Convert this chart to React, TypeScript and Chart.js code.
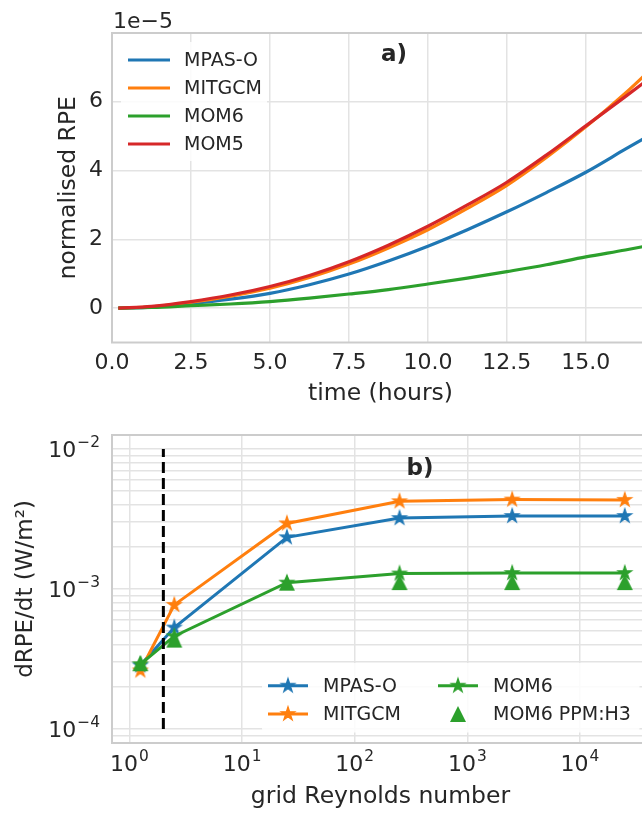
import React, { useEffect, useRef } from 'react';
import { Chart, registerables } from 'chart.js';

Chart.register(...registerables);

const FONT = "'DejaVu Sans', sans-serif";
const TEXT = '#262626';
const GRID = '#e3e3e3';
const FRAME = '#cccccc';

const BLUE = '#1f77b4';
const ORANGE = '#ff7f0e';
const GREEN = '#2ca02c';
const RED = '#d62728';

// ---------- panel a) : normalised RPE (units of 1e-5) vs time ----------
const timeHours = [0.2, 1.25, 2.5, 3.75, 5, 6.25, 7.5, 8.75, 10, 11.25, 12.5, 13.75, 15, 16.25, 17];
const rpeMPASO = [0, 0.03, 0.13, 0.26, 0.43, 0.68, 0.99, 1.37, 1.8, 2.28, 2.8, 3.36, 3.95, 4.62, 5.02];
const rpeMITGCM = [0, 0.04, 0.17, 0.35, 0.58, 0.89, 1.28, 1.75, 2.28, 2.9, 3.57, 4.38, 5.27, 6.25, 6.89];
const rpeMOM6 = [0, 0.02, 0.07, 0.12, 0.19, 0.29, 0.41, 0.54, 0.7, 0.87, 1.06, 1.26, 1.49, 1.69, 1.82];
const rpeMOM5 = [0, 0.05, 0.19, 0.38, 0.63, 0.95, 1.35, 1.83, 2.38, 3.0, 3.66, 4.45, 5.3, 6.15, 6.67];
const timeTicks = [0, 2.5, 5, 7.5, 10, 12.5, 15];
const rpeTicks = [0, 2, 4, 6];
const topSeriesNames = ['MPAS-O', 'MITGCM', 'MOM6', 'MOM5'];

// ---------- panel b) : dRPE/dt vs grid Reynolds number ----------
const gridRe = [1.25, 2.5, 25, 250, 2500, 25000];
const dRpeMPASO = [2.85e-4, 5.3e-4, 2.34e-3, 3.21e-3, 3.32e-3, 3.32e-3];
const dRpeMITGCM = [2.62e-4, 7.7e-4, 2.94e-3, 4.23e-3, 4.35e-3, 4.33e-3];
const dRpeMOM6 = [2.9e-4, 4.6e-4, 1.11e-3, 1.29e-3, 1.3e-3, 1.3e-3];
const dRpeMOM6PPM = [2.95e-4, 4.35e-4, 1.11e-3, 1.12e-3, 1.12e-3, 1.12e-3];
const criticalRe = 2;
const criticalRange = [1e-4, 1e-2];
const reDecadeTicks = [1, 10, 100, 1000, 10000];
const reTickExponents = ['0', '1', '2', '3', '4'];
const dRpeMajorTicks = [1e-4, 1e-3, 1e-2];
const dRpeTickExponents = ['\u22124', '\u22123', '\u22122'];
const dRpeGridTicks = [
  9e-5,
  1e-4, 2e-4, 3e-4, 4e-4, 5e-4, 6e-4, 7e-4, 8e-4, 9e-4,
  1e-3, 2e-3, 3e-3, 4e-3, 5e-3, 6e-3, 7e-3, 8e-3, 9e-3,
  1e-2,
];

const framePlugin = {
  id: 'frame',
  afterDatasetsDraw(chart: any) {
    const { ctx, chartArea: a } = chart;
    ctx.save();
    ctx.strokeStyle = FRAME;
    ctx.lineWidth = 2;
    ctx.strokeRect(a.left, a.top, a.right - a.left, a.bottom - a.top);
    ctx.restore();
  },
};

function legendBox(ctx: CanvasRenderingContext2D, x: number, y: number, w: number, h: number) {
  ctx.save();
  ctx.fillStyle = 'rgba(255,255,255,0.85)';
  ctx.beginPath();
  if ((ctx as any).roundRect) (ctx as any).roundRect(x, y, w, h, 4);
  else ctx.rect(x, y, w, h);
  ctx.fill();
  ctx.restore();
}

function makeStar(color: string, R = 7.2) {
  const c = document.createElement('canvas');
  const s = 20;
  c.width = s;
  c.height = s;
  const g = c.getContext('2d')!;
  g.beginPath();
  for (let k = 0; k < 10; k++) {
    const r = k % 2 === 0 ? R : R * 0.382;
    const ang = -Math.PI / 2 + (k * Math.PI) / 5;
    const px = s / 2 + r * Math.cos(ang);
    const py = s / 2 + r * Math.sin(ang);
    if (k === 0) g.moveTo(px, py);
    else g.lineTo(px, py);
  }
  g.closePath();
  g.fillStyle = color;
  g.fill();
  g.strokeStyle = color;
  g.lineWidth = 1.2;
  g.stroke();
  return c;
}

function makeTriangle(color: string, w = 16) {
  const c = document.createElement('canvas');
  const s = 20;
  c.width = s;
  c.height = s;
  const g = c.getContext('2d')!;
  g.beginPath();
  g.moveTo(s / 2, s / 2 - w / 2);
  g.lineTo(s / 2 + w / 2, s / 2 + w / 2);
  g.lineTo(s / 2 - w / 2, s / 2 + w / 2);
  g.closePath();
  g.fillStyle = color;
  g.fill();
  return c;
}

function drawPow(ctx: CanvasRenderingContext2D, x: number, yBase: number, exp: string, align: 'center' | 'right') {
  ctx.save();
  ctx.font = `22px ${FONT}`;
  const wb = ctx.measureText('10').width;
  ctx.font = `15.4px ${FONT}`;
  const we = ctx.measureText(exp).width;
  const total = wb + 1 + we;
  const x0 = align === 'center' ? x - total / 2 : x - total;
  ctx.fillStyle = TEXT;
  ctx.textAlign = 'left';
  ctx.textBaseline = 'alphabetic';
  ctx.font = `22px ${FONT}`;
  ctx.fillText('10', x0, yBase);
  ctx.font = `15.4px ${FONT}`;
  ctx.fillText(exp, x0 + wb + 1, yBase - 10);
  ctx.restore();
}

function topConfig(): any {
  const values = [rpeMPASO, rpeMITGCM, rpeMOM6, rpeMOM5];
  const colors = [BLUE, ORANGE, GREEN, RED];
  const decor = {
    id: 'topDecor',
    afterDraw(chart: any) {
      const ctx: CanvasRenderingContext2D = chart.ctx;
      legendBox(ctx, 121, 42, 146, 119);
      const rows = [60, 88, 116, 144];
      topSeriesNames.forEach((name, i) => {
        ctx.save();
        ctx.strokeStyle = colors[i];
        ctx.lineWidth = 3.2;
        ctx.beginPath();
        ctx.moveTo(128, rows[i]);
        ctx.lineTo(170, rows[i]);
        ctx.stroke();
        ctx.fillStyle = TEXT;
        ctx.font = `19px ${FONT}`;
        ctx.textAlign = 'left';
        ctx.textBaseline = 'middle';
        ctx.fillText(name, 184, rows[i] + 1.3);
        ctx.restore();
      });
      ctx.save();
      ctx.fillStyle = TEXT;
      ctx.font = `bold 23px ${FONT}`;
      ctx.textAlign = 'center';
      ctx.textBaseline = 'middle';
      ctx.fillText('a)', 394, 55);
      ctx.font = `22px ${FONT}`;
      ctx.textAlign = 'left';
      ctx.textBaseline = 'alphabetic';
      ctx.fillText('1e\u22125', 113, 27.5);
      ctx.restore();
    },
  };
  return {
    type: 'line',
    data: {
      datasets: topSeriesNames.map((name, i) => ({
        label: name,
        data: timeHours.map((t, j) => ({ x: t, y: values[i][j] })),
        borderColor: colors[i],
        backgroundColor: colors[i],
        borderWidth: 3.2,
        pointRadius: 0,
        fill: false,
        cubicInterpolationMode: 'monotone',
        order: -i,
      })),
    },
    options: {
      animation: false,
      responsive: false,
      layout: { padding: { left: 0, top: 33, right: 11, bottom: 0 } },
      plugins: { legend: { display: false }, tooltip: { enabled: false } },
      scales: {
        x: {
          type: 'linear',
          min: 0,
          max: 17,
          afterBuildTicks: (s: any) => {
            s.ticks = timeTicks.map((v) => ({ value: v }));
          },
          afterFit: (s: any) => {
            s.height = 67.5;
          },
          grid: { color: GRID, lineWidth: 1.5, drawTicks: false },
          border: { display: false },
          ticks: {
            padding: 8,
            color: TEXT,
            font: { family: FONT, size: 22, lineHeight: 1.2 },
            callback: (v: any) => Number(v).toFixed(1),
            maxRotation: 0,
            autoSkip: false,
          },
          title: {
            display: true,
            text: 'time (hours)',
            color: TEXT,
            font: { family: FONT, size: 23.5, lineHeight: 1.2 },
            padding: { top: 0, bottom: 1.9 },
          },
        },
        y: {
          type: 'linear',
          min: -1,
          max: 8,
          afterBuildTicks: (s: any) => {
            s.ticks = rpeTicks.map((v) => ({ value: v }));
          },
          afterFit: (s: any) => {
            s.width = 112;
          },
          grid: { color: GRID, lineWidth: 1.5, drawTicks: false },
          border: { display: false },
          ticks: {
            padding: 9,
            color: TEXT,
            font: { family: FONT, size: 22, lineHeight: 1.2 },
            callback: (v: any) => String(v),
          },
          title: {
            display: true,
            text: 'normalised RPE',
            color: TEXT,
            font: { family: FONT, size: 23.5, lineHeight: 1.2 },
            padding: { top: 54.4, bottom: 0 },
          },
        },
      },
    },
    plugins: [framePlugin, decor],
  };
}

function bottomConfig(): any {
  const starBlue = makeStar(BLUE);
  const starOrange = makeStar(ORANGE);
  const starGreen = makeStar(GREEN);
  const triGreen = makeTriangle(GREEN);
  const pts = (vals: number[]) => gridRe.map((x, j) => ({ x, y: vals[j] }));
  const decor = {
    id: 'botDecor',
    afterDraw(chart: any) {
      const ctx: CanvasRenderingContext2D = chart.ctx;
      const xs = chart.scales.x;
      const ys = chart.scales.y;
      // tick labels
      reDecadeTicks.forEach((v, i) => {
        drawPow(ctx, xs.getPixelForValue(v), chart.chartArea.bottom + 27.7, reTickExponents[i], 'center');
      });
      dRpeMajorTicks.forEach((v, i) => {
        drawPow(ctx, 100, ys.getPixelForValue(v) + 8, dRpeTickExponents[i], 'right');
      });
      // legend
      legendBox(ctx, 262, 253, 377.5, 69.5);
      const entries = [
        { name: 'MPAS-O', color: BLUE, img: starBlue, line: true, hx: 268, tx: 323, y: 275.7 },
        { name: 'MITGCM', color: ORANGE, img: starOrange, line: true, hx: 268, tx: 323, y: 304 },
        { name: 'MOM6', color: GREEN, img: starGreen, line: true, hx: 438, tx: 493, y: 275.7 },
        { name: 'MOM6 PPM:H3', color: GREEN, img: triGreen, line: false, hx: 438, tx: 493, y: 304 },
      ];
      entries.forEach((e) => {
        ctx.save();
        if (e.line) {
          ctx.strokeStyle = e.color;
          ctx.lineWidth = 3;
          ctx.beginPath();
          ctx.moveTo(e.hx, e.y);
          ctx.lineTo(e.hx + 40, e.y);
          ctx.stroke();
        }
        ctx.drawImage(e.img, e.hx + 20 - e.img.width / 2, e.y - e.img.height / 2);
        ctx.fillStyle = TEXT;
        ctx.font = `19px ${FONT}`;
        ctx.textAlign = 'left';
        ctx.textBaseline = 'middle';
        ctx.fillText(e.name, e.tx, e.y + 1.3);
        ctx.restore();
      });
      ctx.save();
      ctx.fillStyle = TEXT;
      ctx.font = `bold 23px ${FONT}`;
      ctx.textAlign = 'center';
      ctx.textBaseline = 'middle';
      ctx.fillText('b)', 420, 59);
      ctx.restore();
    },
  };
  return {
    type: 'scatter',
    data: {
      datasets: [
        { label: 'MPAS-O', data: pts(dRpeMPASO), borderColor: BLUE, backgroundColor: BLUE, showLine: true, borderWidth: 3, pointStyle: starBlue, pointRadius: 6, order: 0 },
        { label: 'MITGCM', data: pts(dRpeMITGCM), borderColor: ORANGE, backgroundColor: ORANGE, showLine: true, borderWidth: 3, pointStyle: starOrange, pointRadius: 6, order: -1 },
        { label: 'MOM6', data: pts(dRpeMOM6), borderColor: GREEN, backgroundColor: GREEN, showLine: true, borderWidth: 3, pointStyle: starGreen, pointRadius: 6, order: -2 },
        { label: 'MOM6 PPM:H3', data: pts(dRpeMOM6PPM), borderColor: GREEN, backgroundColor: GREEN, showLine: false, pointStyle: triGreen, pointRadius: 6, order: -3 },
        {
          label: 'critical',
          data: criticalRange.map((y) => ({ x: criticalRe, y })),
          borderColor: '#000000',
          borderDash: [11, 5],
          borderWidth: 3,
          showLine: true,
          pointRadius: 0,
          order: -4,
        },
      ],
    },
    options: {
      animation: false,
      responsive: false,
      layout: { padding: { left: 0, top: 25, right: 11, bottom: 0 } },
      plugins: { legend: { display: false }, tooltip: { enabled: false } },
      scales: {
        x: {
          type: 'logarithmic',
          min: 0.742,
          max: 41000,
          afterBuildTicks: (s: any) => {
            s.ticks = reDecadeTicks.map((v) => ({ value: v, major: true }));
          },
          afterFit: (s: any) => {
            s.height = 71;
          },
          grid: { color: GRID, lineWidth: 1.5, drawTicks: false },
          border: { display: false },
          ticks: { display: false },
          title: {
            display: true,
            text: 'grid Reynolds number',
            color: TEXT,
            font: { family: FONT, size: 23.5, lineHeight: 1.2 },
            padding: { top: 0, bottom: 3.3 },
          },
        },
        y: {
          type: 'logarithmic',
          min: Math.pow(10, -4.1),
          max: Math.pow(10, -1.9),
          afterBuildTicks: (s: any) => {
            s.ticks = dRpeGridTicks.map((v) => ({ value: v }));
          },
          afterFit: (s: any) => {
            s.width = 112;
          },
          grid: { color: GRID, lineWidth: 1.5, drawTicks: false },
          border: { display: false },
          ticks: { display: false },
          title: {
            display: true,
            text: 'dRPE/dt (W/m\u00b2)',
            color: TEXT,
            font: { family: FONT, size: 23, lineHeight: 1.2 },
            padding: { top: 12, bottom: 0 },
          },
        },
      },
    },
    plugins: [framePlugin, decor],
  };
}

export default function App() {
  const topRef = useRef<HTMLCanvasElement>(null);
  const botRef = useRef<HTMLCanvasElement>(null);
  useEffect(() => {
    const c1 = new Chart(topRef.current!, topConfig());
    const c2 = new Chart(botRef.current!, bottomConfig());
    return () => {
      c1.destroy();
      c2.destroy();
    };
  }, []);
  return (
    <div style={{ position: 'fixed', left: 0, top: 0, width: 642, height: 814, overflow: 'hidden', background: '#ffffff' }}>
      <canvas ref={topRef} width={660} height={410} style={{ position: 'absolute', left: 0, top: 0, width: 660, height: 410 }} />
      <canvas ref={botRef} width={660} height={404} style={{ position: 'absolute', left: 0, top: 410, width: 660, height: 404 }} />
    </div>
  );
}
